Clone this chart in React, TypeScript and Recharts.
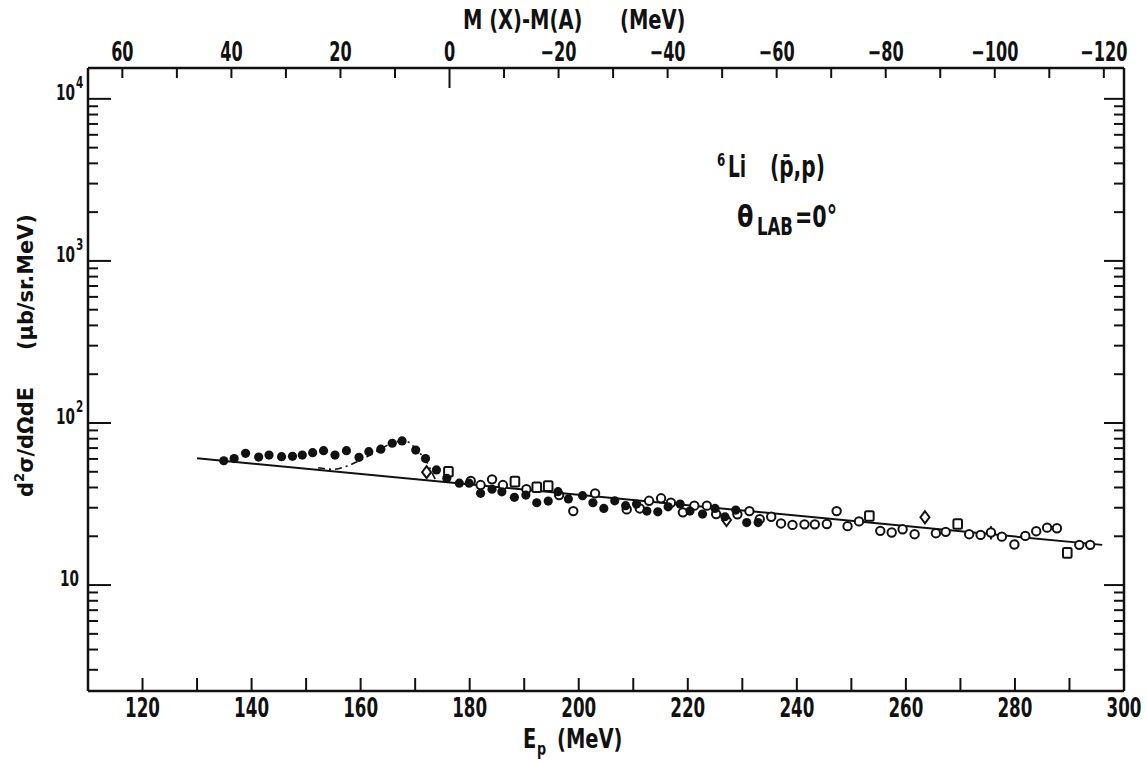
import React from 'react';
import {
  ComposedChart, XAxis, YAxis, Scatter, Line, ErrorBar,
} from 'recharts';

// axis ranges (Ep in MeV, cross-section in µb/sr.MeV)
const EP_DOMAIN: [number, number] = [110, 300];
const SIG_DOMAIN: [number, number] = [2.22, 15500];
// Ep at which M(X)-M(A) = 0 on the upper scale
const M_ZERO_EP = 176.3;

const epTicks = [120, 130, 140, 150, 160, 170, 180, 190, 200, 210, 220, 230, 240, 250, 260, 270, 280, 290, 300];
const mTicks = [60, 50, 40, 30, 20, 10, 0, -10, -20, -30, -40, -50, -60, -70, -80, -90, -100, -110, -120];
const sigTicks = [
  3, 4, 5, 6, 7, 8, 9, 10, 20, 30, 40, 50, 60, 70, 80, 90,
  100, 200, 300, 400, 500, 600, 700, 800, 900,
  1000, 2000, 3000, 4000, 5000, 6000, 7000, 8000, 9000, 10000,
];

// filled circles
const filledPoints = [
  { ep: 134.9, v: 58.5 }, { ep: 136.8, v: 60.3 }, { ep: 138.9, v: 65.0 }, { ep: 141.3, v: 61.6 },
  { ep: 143.2, v: 63.4 }, { ep: 145.5, v: 62.0 }, { ep: 147.5, v: 62.3 }, { ep: 149.3, v: 63.4 },
  { ep: 151.2, v: 65.6 }, { ep: 153.2, v: 67.5 }, { ep: 155.3, v: 63.4 }, { ep: 157.4, v: 67.5 },
  { ep: 159.7, v: 61.4 }, { ep: 161.5, v: 66.5 }, { ep: 163.7, v: 68.9 }, { ep: 165.8, v: 75.0 },
  { ep: 167.6, v: 77.5 }, { ep: 170.1, v: 68.1 }, { ep: 171.9, v: 60.3 }, { ep: 173.9, v: 51.3 },
  { ep: 175.8, v: 45.6 }, { ep: 178.1, v: 42.5 }, { ep: 179.9, v: 42.5 }, { ep: 182.0, v: 36.8 },
  { ep: 184.1, v: 39.0 }, { ep: 185.9, v: 37.6 }, { ep: 188.2, v: 34.8 }, { ep: 190.3, v: 35.9 },
  { ep: 192.3, v: 32.2 }, { ep: 194.4, v: 33.0 }, { ep: 196.2, v: 37.7 }, { ep: 198.1, v: 34.0 },
  { ep: 200.7, v: 35.6 }, { ep: 202.6, v: 32.2 }, { ep: 204.6, v: 29.7 }, { ep: 206.6, v: 33.1 },
  { ep: 208.6, v: 30.9 }, { ep: 210.6, v: 31.6 }, { ep: 212.5, v: 28.6 }, { ep: 214.5, v: 28.3 },
  { ep: 216.4, v: 30.4 }, { ep: 218.6, v: 31.6 }, { ep: 220.4, v: 28.6 }, { ep: 222.7, v: 27.4 },
  { ep: 225.0, v: 29.7 }, { ep: 226.8, v: 26.4 }, { ep: 228.8, v: 29.0 }, { ep: 230.8, v: 24.3 },
  { ep: 232.9, v: 24.3 },
];

// open circles
const openPoints = [
  { ep: 180.2, v: 43.9 }, { ep: 182.0, v: 41.4 }, { ep: 184.1, v: 44.9 }, { ep: 186.1, v: 41.4 },
  { ep: 190.4, v: 39.0 }, { ep: 196.4, v: 35.9 }, { ep: 199.0, v: 28.6 }, { ep: 203.0, v: 36.8 },
  { ep: 208.8, v: 29.3 }, { ep: 211.2, v: 29.7 }, { ep: 212.9, v: 33.1 }, { ep: 215.1, v: 34.3 },
  { ep: 216.9, v: 32.2 }, { ep: 219.1, v: 28.1 }, { ep: 221.2, v: 30.9 }, { ep: 223.5, v: 30.9 },
  { ep: 225.2, v: 27.4 }, { ep: 229.1, v: 27.3 }, { ep: 231.3, v: 28.6 }, { ep: 233.2, v: 25.5 },
  { ep: 235.3, v: 26.4 }, { ep: 237.1, v: 24.0 }, { ep: 239.2, v: 23.5 }, { ep: 241.4, v: 23.7 },
  { ep: 243.3, v: 23.7 }, { ep: 245.5, v: 23.8 }, { ep: 247.3, v: 28.6 }, { ep: 249.3, v: 23.1 },
  { ep: 251.4, v: 24.7 }, { ep: 255.3, v: 21.6 }, { ep: 257.4, v: 21.1 }, { ep: 259.4, v: 22.1 },
  { ep: 261.6, v: 20.6 }, { ep: 265.5, v: 20.9 }, { ep: 267.3, v: 21.3 }, { ep: 271.6, v: 20.6 },
  { ep: 273.7, v: 20.4 }, { ep: 277.6, v: 19.9 }, { ep: 279.9, v: 17.8 }, { ep: 281.9, v: 20.1 },
  { ep: 283.9, v: 21.5 }, { ep: 285.9, v: 22.6 }, { ep: 287.7, v: 22.4 }, { ep: 291.8, v: 17.7 },
  { ep: 293.8, v: 17.7 },
];

// open circles drawn with an error bar
const openErrPoints = [
  { ep: 275.6, v: 21.1, err: 2.0 },
];

const squarePoints = [
  { ep: 176.1, v: 50.0 }, { ep: 188.3, v: 43.5 }, { ep: 192.3, v: 40.1 }, { ep: 194.4, v: 40.8 },
  { ep: 253.3, v: 26.7 }, { ep: 269.5, v: 23.8 }, { ep: 289.6, v: 15.8 },
];

const diamondPoints = [
  { ep: 172.1, v: 49.7 }, { ep: 227.1, v: 25.2 }, { ep: 263.5, v: 26.2 },
];

// straight background line and the dash-dotted peak fit
const backgroundLine = [
  { ep: 130, v: 60.5 }, { ep: 296, v: 17.7 },
];

const peakFit = [
  { ep: 152.2, v: 53.0 }, { ep: 155.0, v: 51.8 }, { ep: 157.7, v: 54.6 }, { ep: 160.3, v: 59.8 },
  { ep: 162.3, v: 65.0 }, { ep: 164.4, v: 71.5 }, { ep: 166.6, v: 76.7 }, { ep: 168.4, v: 76.7 },
  { ep: 170.3, v: 68.1 }, { ep: 172.1, v: 57.7 }, { ep: 173.3, v: 47.7 }, { ep: 173.9, v: 43.6 },
];

const FONT = "'DejaVu Sans', 'Liberation Sans', sans-serif";
const INK = '#111';

// condensed text: the scan uses a narrow typewriter-like face
const Cond = ({ x, y, size, sx, anchor = 'start', children }: any) => (
  <g transform={`translate(${x},${y}) scale(${sx},1)`}>
    <text x={0} y={0} fontSize={size} fontFamily={FONT} fontWeight="bold" textAnchor={anchor} fill={INK}>
      {children}
    </text>
  </g>
);

const BottomTick = ({ x, y, payload }: any) => {
  const v = payload.value;
  return (
    <g>
      <line x1={x} y1={y} x2={x} y2={y - 13} stroke={INK} strokeWidth={2} />
      {v % 20 === 0 && <Cond x={x} y={y + 26} size={27} sx={0.62} anchor="middle">{v}</Cond>}
    </g>
  );
};

const TopTick = ({ x, y, payload }: any) => {
  const m = Math.round(M_ZERO_EP - payload.value);
  const len = m === 0 ? 20 : 10;
  const label = m < 0 ? `\u2212${-m}` : `${m}`;
  return (
    <g>
      <line x1={x} y1={y} x2={x} y2={y + len} stroke={INK} strokeWidth={2} />
      {m % 20 === 0 && <Cond x={x} y={y - 7} size={26} sx={0.62} anchor="middle">{label}</Cond>}
    </g>
  );
};

const isDecade = (v: number) => Math.abs(Math.log10(v) - Math.round(Math.log10(v))) < 1e-6;

const LeftTick = ({ x, y, payload }: any) => {
  const v = payload.value;
  const major = isDecade(v);
  const exp = Math.round(Math.log10(v));
  return (
    <g>
      <line x1={x} y1={y} x2={x + (major ? 23 : 10)} y2={y} stroke={INK} strokeWidth={2} />
      {major && exp === 1 && <Cond x={x - 9} y={y + 1} size={22} sx={0.62} anchor="end">10</Cond>}
      {major && exp > 1 && (
        <>
          <Cond x={x - 13} y={y + 1} size={22} sx={0.62} anchor="end">10</Cond>
          <Cond x={x - 12} y={y - 11} size={15} sx={0.7}>{exp}</Cond>
        </>
      )}
    </g>
  );
};

const RightTick = ({ x, y, payload }: any) => {
  const major = isDecade(payload.value);
  return <line x1={x} y1={y} x2={x - (major ? 20 : 10)} y2={y} stroke={INK} strokeWidth={2} />;
};

const FilledDot = (p: any) => <circle cx={p.cx} cy={p.cy} r={4.6} fill={INK} />;
const OpenDot = (p: any) => <circle cx={p.cx} cy={p.cy} r={4.2} fill="#fff" stroke={INK} strokeWidth={2} />;
const OpenSquare = (p: any) => (
  <rect x={p.cx - 4.3} y={p.cy - 4.8} width={8.6} height={9.6} rx={1.5} fill="#fff" stroke={INK} strokeWidth={2} />
);
const OpenDiamond = (p: any) => (
  <polygon
    points={`${p.cx},${p.cy - 6} ${p.cx + 4.5},${p.cy} ${p.cx},${p.cy + 6} ${p.cx - 4.5},${p.cy}`}
    fill="#fff" stroke={INK} strokeWidth={2}
  />
);

const axisLine = { stroke: INK, strokeWidth: 2.5 };

export default function App() {
  return (
    <div style={{ position: 'relative', width: 1146, height: 763, background: '#fff' }}>
      <style>{'body{margin:0;background:#fff}'}</style>
      <ComposedChart width={1146} height={763} margin={{ top: 38, right: 12, bottom: 42, left: 48 }}>
        <XAxis
          xAxisId="bottom" dataKey="ep" type="number" domain={EP_DOMAIN} allowDataOverflow
          ticks={epTicks} interval={0} height={30} tickSize={0} tickMargin={0} tickLine={false}
          axisLine={axisLine} tick={<BottomTick />}
        />
        <XAxis
          xAxisId="top" orientation="top" dataKey="ep" type="number" domain={EP_DOMAIN} allowDataOverflow
          ticks={mTicks.map((m) => M_ZERO_EP - m)} interval={0} height={30} tickSize={0} tickMargin={0}
          tickLine={false} axisLine={axisLine} tick={<TopTick />}
        />
        <YAxis
          yAxisId="left" dataKey="v" type="number" scale="log" domain={SIG_DOMAIN} allowDataOverflow
          ticks={sigTicks} interval={0} width={40} tickSize={0} tickMargin={0} tickLine={false}
          axisLine={axisLine} tick={<LeftTick />}
        />
        <YAxis
          yAxisId="right" orientation="right" dataKey="v" type="number" scale="log" domain={SIG_DOMAIN}
          allowDataOverflow ticks={sigTicks} interval={0} width={10} tickSize={0} tickMargin={0}
          tickLine={false} axisLine={axisLine} tick={<RightTick />}
        />
        <Line
          xAxisId="bottom" yAxisId="left" data={backgroundLine} dataKey="v" type="linear"
          stroke={INK} strokeWidth={2} dot={false} activeDot={false} isAnimationActive={false}
        />
        <Line
          xAxisId="bottom" yAxisId="left" data={peakFit} dataKey="v" type="monotone"
          stroke={INK} strokeWidth={1.6} strokeDasharray="7 4 2 4" dot={false} activeDot={false}
          isAnimationActive={false}
        />
        <Scatter xAxisId="bottom" yAxisId="left" data={openPoints} dataKey="v" shape={OpenDot} isAnimationActive={false} />
        <Scatter xAxisId="bottom" yAxisId="left" data={openErrPoints} dataKey="v" shape={OpenDot} isAnimationActive={false}>
          <ErrorBar dataKey="err" direction="y" width={0} stroke={INK} strokeWidth={2} />
        </Scatter>
        <Scatter xAxisId="bottom" yAxisId="left" data={squarePoints} dataKey="v" shape={OpenSquare} isAnimationActive={false} />
        <Scatter xAxisId="bottom" yAxisId="left" data={diamondPoints} dataKey="v" shape={OpenDiamond} isAnimationActive={false} />
        <Scatter xAxisId="bottom" yAxisId="left" data={filledPoints} dataKey="v" shape={FilledDot} isAnimationActive={false} />
      </ComposedChart>

      <svg width={1146} height={763} style={{ position: 'absolute', left: 0, top: 0, pointerEvents: 'none' }}>
        {/* upper axis title */}
        <Cond x={463} y={29} size={26} sx={0.75}>M (X)-M(A)</Cond>
        <Cond x={620} y={29} size={26} sx={0.75}>(MeV)</Cond>
        {/* lower axis title */}
        <Cond x={523} y={748} size={26} sx={0.75}>E</Cond>
        <Cond x={537} y={755} size={17} sx={0.75}>p</Cond>
        <Cond x={557} y={748} size={26} sx={0.75}>(MeV)</Cond>
        {/* vertical axis title */}
        <g transform="translate(33,497) rotate(-90) scale(0.95,1)">
          <text x={0} y={0} fontSize={22} fontFamily={FONT} fontWeight="bold" fill={INK}>
            d<tspan dy={-9} fontSize={14}>2</tspan><tspan dy={9}>σ/dΩdE</tspan>
          </text>
        </g>
        <g transform="translate(33,350) rotate(-90) scale(0.95,1)">
          <text x={0} y={0} fontSize={22} fontFamily={FONT} fontWeight="bold" fill={INK}>(μb/sr.MeV)</text>
        </g>
        {/* reaction label */}
        <Cond x={717} y={166} size={17} sx={0.7}>6</Cond>
        <Cond x={728} y={177} size={31} sx={0.6}>Li</Cond>
        <Cond x={770} y={177} size={31} sx={0.65}>(p̄,p)</Cond>
        <Cond x={737} y={227} size={30} sx={0.8}>θ</Cond>
        <Cond x={757} y={235} size={24} sx={0.69}>LAB</Cond>
        <Cond x={795} y={227} size={30} sx={0.69}>=0°</Cond>
      </svg>
    </div>
  );
}
